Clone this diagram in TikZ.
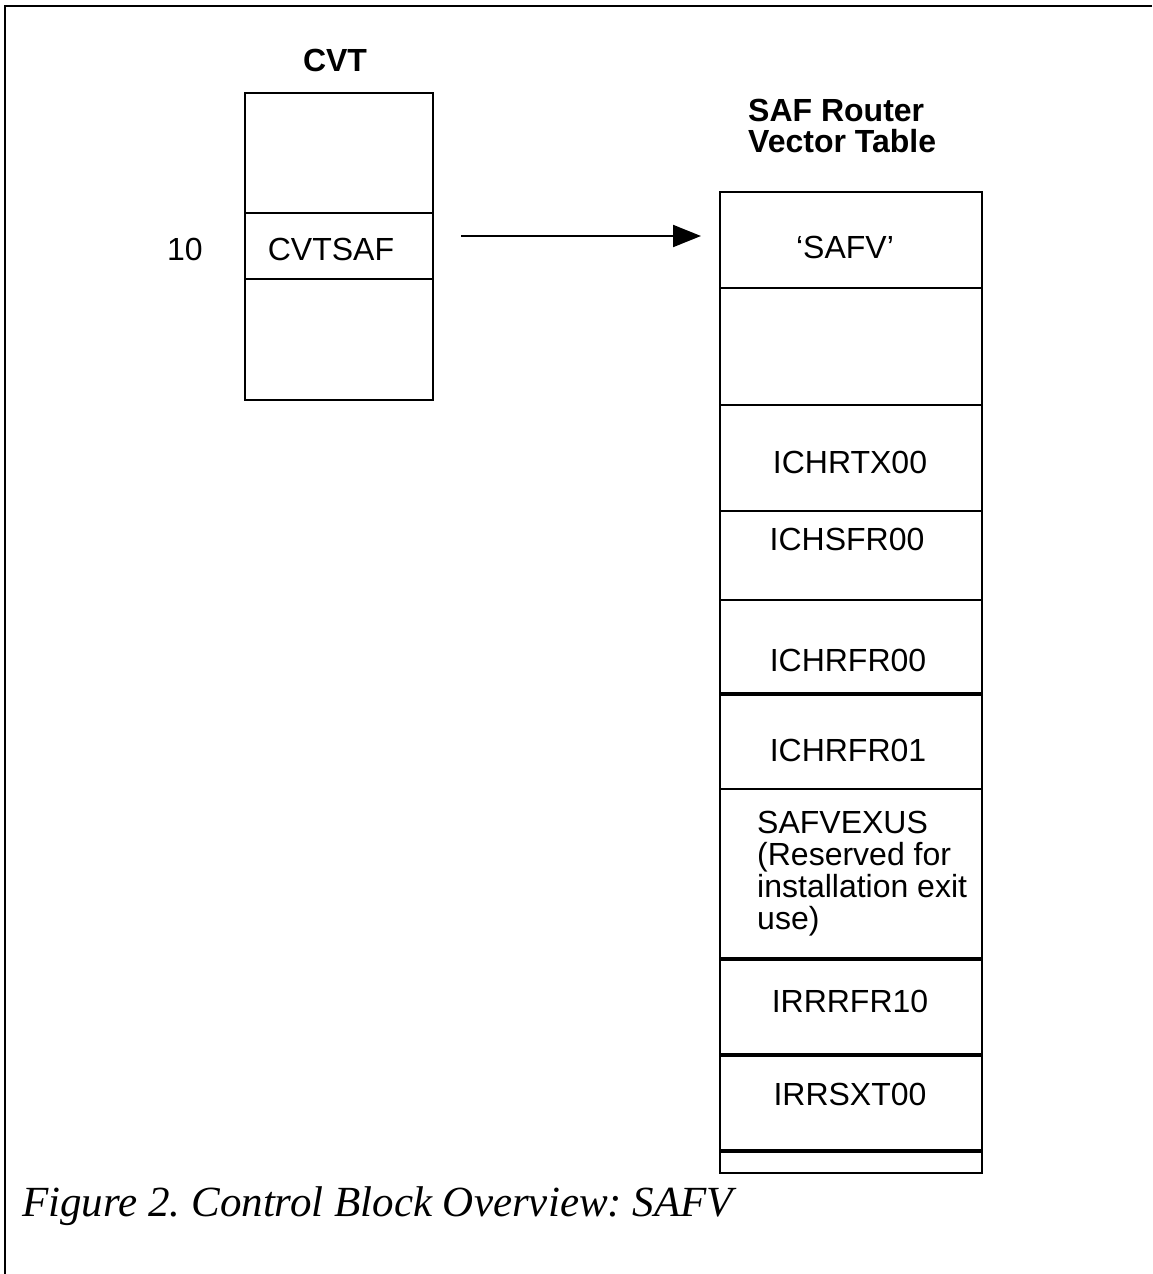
\documentclass[tikz,border=0pt]{standalone}
\usepackage{fontspec}
\setmainfont{Liberation Sans}
\newfontfamily\capfont{Liberation Serif}
\usetikzlibrary{arrows.meta}
\begin{document}
\frenchspacing
\begin{tikzpicture}[x=1pt,y=-1pt,
  cell/.style={draw,line width=2pt,inner sep=0pt,minimum width=#1},
  cvtcell/.style={cell=188pt},
  safcell/.style={cell=262pt},
  lbl/.style={font=\fontsize{32pt}{32pt}\selectfont,inner sep=0pt},
  title/.style={font=\fontsize{32pt}{31pt}\selectfont\bfseries,inner sep=0pt},
  thickline/.style={line width=4pt},
  conn/.style={line width=2pt,-{Triangle[length=28pt,width=22pt]}},
  frame/.style={line width=2.5pt}]
\useasboundingbox (0,0) rectangle (1152,1274);
% frame
\draw[frame] (1152,6) -- (5,6) -- (5,1274);
% CVT
\node[title] (cvttitle) at (335,60) {CVT};
\node[cvtcell,minimum height=120pt] (cvt1) at (339,153) {};
\node[cvtcell,minimum height=66pt] (cvtsaf) at (339,246) {};
\node[cvtcell,minimum height=121pt] (cvt3) at (339,339.5) {};
\node[lbl] (off) at (185,249) {10};
\node[lbl] (cvtsaftxt) at (331,249) {CVTSAF};
% SAF table
\node[title,anchor=north west,align=left] (saftitle) at (748,99) {SAF Router\\Vector Table};
\node[safcell,minimum height=96pt] (safv) at (851,240) {};
\node[safcell,minimum height=117pt] (s2) at (851,346.5) {};
\node[safcell,minimum height=106pt] (s3) at (851,458) {};
\node[safcell,minimum height=89pt] (s4) at (851,555.5) {};
\node[safcell,minimum height=93pt] (s5) at (851,646.5) {};
\node[safcell,minimum height=96pt] (s6) at (851,741) {};
\node[safcell,minimum height=169pt] (s7) at (851,873.5) {};
\node[safcell,minimum height=96pt] (s8) at (851,1006) {};
\node[safcell,minimum height=96pt] (s9) at (851,1102) {};
\node[safcell,minimum height=23pt] (s10) at (851,1161.5) {};
\draw[thickline] (s5.south west) -- (s5.south east);
\draw[thickline] (s7.south west) -- (s7.south east);
\draw[thickline] (s8.south west) -- (s8.south east);
\draw[thickline] (s9.south west) -- (s9.south east);
\node[lbl] (t1) at (845,247) {‘SAFV’};
\node[lbl] (t3) at (850,462) {ICHRTX00};
\node[lbl] (t4) at (847,539) {ICHSFR00};
\node[lbl] (t5) at (848,660) {ICHRFR00};
\node[lbl] (t6) at (848,750) {ICHRFR01};
\node[lbl,anchor=north west,align=left] (t7) at (757,811) {SAFVEXUS\\(Reserved for\\installation exit\\use)};
\node[lbl] (t8) at (850,1001) {IRRRFR10};
\node[lbl] (t9) at (850,1094) {IRRSXT00};
% arrow
\draw[conn] ([xshift=27pt,yshift=10pt]cvtsaf.east) -- ([xshift=-18pt,yshift=4pt]safv.west);
% caption
\node[anchor=base west,inner sep=0pt,font=\fontsize{43pt}{43pt}\selectfont\capfont\itshape] (caption) at (22,1216) {Figure 2. Control Block Overview: SAFV};
\end{tikzpicture}
\end{document}
